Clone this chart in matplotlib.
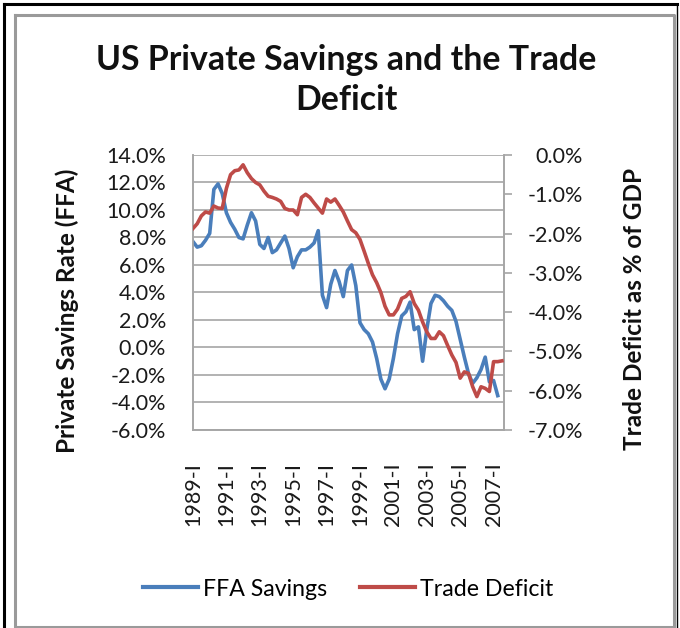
import numpy as np
import matplotlib
matplotlib.use("Agg")
import matplotlib.pyplot as plt
from matplotlib.lines import Line2D
from matplotlib.ticker import FuncFormatter

plt.rcParams['font.family'] = ['Lato', 'DejaVu Sans']

# quarterly data, 1989-I onwards
ffa_savings = [7.7, 7.3, 7.4, 7.8, 8.3, 11.5, 11.9, 11.2, 9.8, 9.1,
               8.6, 8.0, 7.9, 8.9, 9.8, 9.2, 7.5, 7.2, 8.0, 6.9,
               7.1, 7.6, 8.1, 7.2, 5.8, 6.6, 7.1, 7.1, 7.3, 7.6,
               8.5, 3.8, 2.9, 4.6, 5.6, 4.8, 3.7, 5.6, 6.0, 4.5,
               1.8, 1.3, 1.0, 0.4, -0.8, -2.3, -3.0, -2.3, -0.8, 1.0,
               2.3, 2.6, 3.3, 1.3, 1.5, -1.0, 1.3, 3.2, 3.8, 3.7,
               3.4, 3.0, 2.7, 1.9, 0.6, -0.7, -1.9, -2.6, -2.2, -1.6,
               -0.7, -2.5, -2.4, -3.5]
trade_deficit = [-1.87, -1.75, -1.55, -1.45, -1.48, -1.30, -1.35, -1.36, -0.85, -0.50,
                 -0.40, -0.38, -0.25, -0.45, -0.60, -0.70, -0.76, -0.92, -1.05, -1.08,
                 -1.12, -1.18, -1.36, -1.40, -1.40, -1.52, -1.08, -1.00, -1.08, -1.22,
                 -1.35, -1.48, -1.12, -1.20, -1.12, -1.28, -1.45, -1.68, -1.90, -1.98,
                 -2.15, -2.45, -2.76, -3.05, -3.25, -3.50, -3.85, -4.07, -4.07, -3.92,
                 -3.65, -3.60, -3.48, -3.78, -3.95, -4.25, -4.50, -4.67, -4.67, -4.50,
                 -4.60, -4.85, -5.09, -5.28, -5.68, -5.52, -5.56, -5.90, -6.15, -5.90,
                 -5.94, -6.02, -5.26, -5.26, -5.24]
years = list(range(1989, 2008))
quarter_names = ['I', 'II', 'III', 'IV']
categories = [f"{y}-{q}" for y in years for q in quarter_names]
left_ticks = [14, 12, 10, 8, 6, 4, 2, 0, -2, -4, -6]
right_ticks = [0, -1, -2, -3, -4, -5, -6, -7]

W, H = 680, 628
fig = plt.figure(figsize=(W / 100, H / 100), dpi=100)

def px(x, y):
    return x / W, 1 - y / H

# frames: outer black, inner gray
fig.add_artist(Line2D([3.5 / W, 3.5 / W], [0, 1 - 3.5 / H], color='black', lw=2.2))
fig.add_artist(Line2D([3.5 / W, 676.5 / W], [1 - 3.5 / H, 1 - 3.5 / H], color='black', lw=2.2))
fig.add_artist(Line2D([676.5 / W, 676.5 / W], [0, 1 - 3.5 / H], color='black', lw=1.0))
gx0, gy0, gx1, gy1 = 14.5, 14.5, 673.5, 626.5
fig.add_artist(Line2D([gx0 / W, gx1 / W, gx1 / W, gx0 / W, gx0 / W],
                      [1 - gy0 / H, 1 - gy0 / H, 1 - gy1 / H, 1 - gy1 / H, 1 - gy0 / H],
                      color='#9a9a9a', lw=2.2))

ax = fig.add_axes([193 / W, 1 - 430 / H, (504 - 193) / W, (430 - 155) / H])
ax2 = ax.twinx()

x_blue = np.arange(len(ffa_savings))
x_red = np.arange(len(trade_deficit))
ax.plot(x_blue, ffa_savings, color='#4a7ebb', lw=2.6, solid_joinstyle='round', zorder=3)
ax2.plot(x_red, trade_deficit, color='#be4b48', lw=2.6, solid_joinstyle='round', zorder=3)

ax.set_xlim(0, 74.5)
ax.set_ylim(-6, 14)
ax2.set_ylim(-7, 0)
ax.set_yticks(left_ticks)
ax2.set_yticks(right_ticks)
ax.yaxis.set_major_formatter(FuncFormatter(lambda v, p: f"{v:.1f}%"))
ax2.yaxis.set_major_formatter(FuncFormatter(lambda v, p: f"{v:.1f}%"))

tick_idx = list(range(0, len(categories), 8))
ax.set_xticks(tick_idx)
ax.set_xticklabels([categories[i] for i in tick_idx], rotation=90, fontsize=15.5, color='#1a1a1a')

ax.grid(axis='y', color='#a6a6a6', lw=1.2)
ax.set_axisbelow(True)
for a in (ax, ax2):
    for s in a.spines.values():
        s.set_color('#a6a6a6')
        s.set_linewidth(1.2)
ax.spines['top'].set_visible(False)
ax2.spines['top'].set_visible(False)

ax.tick_params(axis='y', length=0, pad=19.5, labelsize=15.5, labelcolor='#1a1a1a')
ax.tick_params(axis='x', length=0, pad=23)
ax2.tick_params(axis='y', length=6, width=1.2, color='#a6a6a6', pad=51,
                labelsize=15.5, labelcolor='#1a1a1a')
for lbl in ax2.get_yticklabels():
    lbl.set_horizontalalignment('right')

fig.text(*px(346, 60), "US Private Savings and the Trade", ha='center', va='center',
         fontsize=24.4, fontweight='bold', color='#111111')
fig.text(*px(346, 100), "Deficit", ha='center', va='center',
         fontsize=24.4, fontweight='bold', color='#111111')

fig.text(*px(67, 311), "Private Savings Rate (FFA)", rotation=90, ha='center', va='center',
         fontsize=17.5, fontweight='bold', color='#111111')
fig.text(*px(635, 309), "Trade Deficit as % of GDP", rotation=90, ha='center', va='center',
         fontsize=17.5, fontweight='bold', color='#111111')

handles = [Line2D([], [], color='#4a7ebb', lw=3),
           Line2D([], [], color='#be4b48', lw=3)]
fig.legend(handles, ['FFA Savings', 'Trade Deficit'], loc='center',
           bbox_to_anchor=px(348, 589), ncol=2, frameon=False, fontsize=16.7,
           handlelength=2.4, handletextpad=0.2, columnspacing=1.4)

fig.savefig('out.png', dpi=100, facecolor='white')
